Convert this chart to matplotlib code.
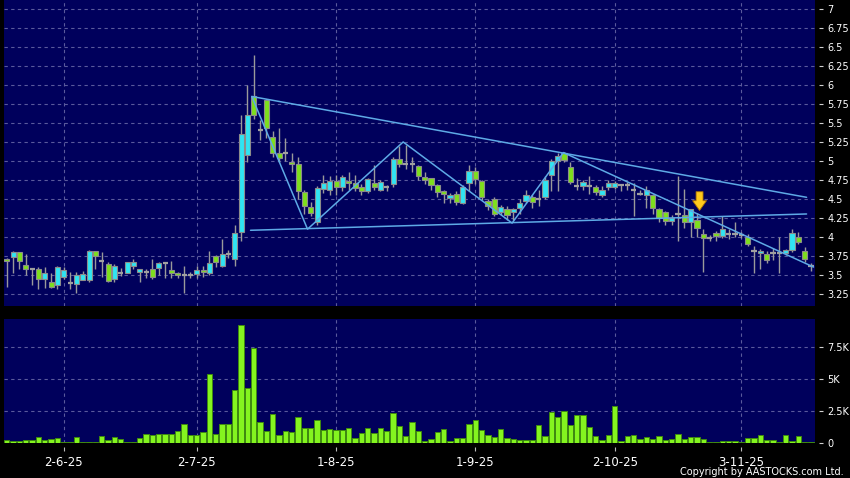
import matplotlib
matplotlib.use('Agg')
import matplotlib.pyplot as plt
import numpy as np

# ---------------- data ----------------
opens = [3.71,3.73,3.80,3.63,3.58,3.57,3.44,3.40,3.36,3.47,3.39,3.37,3.43,3.43,3.81,3.68,3.64,3.44,3.52,3.52,
         3.62,3.53,3.53,3.57,3.59,3.65,3.56,3.52,3.49,3.50,3.51,3.56,3.52,3.75,3.61,3.77,3.70,4.06,5.08,5.86,
         5.41,5.81,5.31,5.11,5.11,4.98,4.96,4.59,4.39,4.19,4.63,4.62,4.74,4.65,4.74,4.71,4.65,4.60,4.71,4.62,
         4.65,4.70,5.02,4.96,4.96,4.93,4.79,4.78,4.68,4.60,4.51,4.57,4.45,4.71,4.87,4.73,4.47,4.50,4.33,4.37,
         4.32,4.38,4.47,4.52,4.50,4.53,4.82,5.00,5.11,4.92,4.67,4.67,4.67,4.66,4.55,4.65,4.65,4.68,4.68,4.62,
         4.57,4.55,4.55,4.36,4.32,4.21,4.30,4.29,4.19,4.22,4.04,3.98,4.05,4.01,4.04,4.03,4.02,4.00,3.81,3.78,
         3.77,3.79,3.78,3.78,3.82,4.00,3.81,3.61]
highs = [3.72,3.81,3.80,3.77,3.59,3.60,3.60,3.52,3.61,3.60,3.54,3.53,3.55,3.83,3.81,3.80,3.66,3.64,3.59,3.67,
         3.71,3.57,3.57,3.71,3.67,3.67,3.68,3.53,3.61,3.53,3.61,3.62,3.81,3.76,3.97,3.83,4.16,5.61,6.00,6.40,
         5.54,5.82,5.40,5.43,5.30,5.10,5.05,4.62,4.46,4.67,4.82,4.80,4.82,4.82,4.85,4.82,4.70,4.78,4.95,4.75,
         4.68,5.05,5.20,5.21,5.05,4.95,4.85,4.78,4.70,4.62,4.58,4.60,4.68,4.95,4.92,4.75,4.50,4.52,4.42,4.40,
         4.38,4.50,4.62,4.55,4.62,4.80,5.02,5.11,5.12,4.99,4.78,4.75,4.80,4.68,4.67,4.75,4.74,4.70,4.72,4.71,
         4.62,4.67,4.57,4.38,4.34,4.28,4.80,4.63,4.37,4.31,4.10,4.02,4.08,4.27,4.10,4.20,4.06,4.03,3.88,3.84,
         3.81,3.85,4.00,3.84,4.10,4.06,3.86,3.65]
lows = [3.34,3.52,3.58,3.49,3.36,3.31,3.33,3.33,3.31,3.44,3.31,3.26,3.43,3.40,3.57,3.47,3.40,3.40,3.48,3.52,
        3.57,3.40,3.45,3.44,3.50,3.46,3.46,3.45,3.26,3.46,3.45,3.47,3.50,3.60,3.60,3.72,3.62,3.94,4.99,5.55,
        5.28,5.30,5.05,4.98,5.00,4.85,4.50,4.30,4.27,4.15,4.58,4.55,4.55,4.60,4.62,4.60,4.55,4.58,4.62,4.60,
        4.60,4.65,4.92,4.90,4.85,4.75,4.70,4.62,4.52,4.45,4.45,4.42,4.43,4.60,4.70,4.48,4.35,4.27,4.28,4.22,
        4.22,4.30,4.45,4.38,4.40,4.50,4.60,4.60,4.98,4.70,4.62,4.62,4.56,4.55,4.52,4.62,4.63,4.60,4.62,4.27,
        4.55,4.38,4.30,4.20,4.15,4.15,3.94,4.12,4.00,4.00,3.53,3.95,3.95,3.98,3.97,4.00,3.98,3.88,3.52,3.58,
        3.65,3.69,3.52,3.76,3.80,3.91,3.66,3.55]
closes = [3.68,3.80,3.68,3.57,3.58,3.44,3.52,3.34,3.60,3.56,3.39,3.49,3.51,3.81,3.75,3.68,3.42,3.61,3.52,3.67,
          3.67,3.57,3.53,3.47,3.65,3.65,3.52,3.49,3.49,3.50,3.56,3.53,3.65,3.67,3.77,3.77,4.05,5.35,5.61,5.61,
          5.41,5.43,5.11,5.04,5.11,4.96,4.60,4.41,4.31,4.64,4.71,4.74,4.65,4.79,4.71,4.64,4.60,4.76,4.65,4.72,
          4.65,5.02,4.96,4.96,4.96,4.80,4.75,4.68,4.59,4.57,4.55,4.46,4.66,4.87,4.76,4.53,4.41,4.30,4.39,4.28,
          4.36,4.44,4.55,4.46,4.50,4.75,5.00,5.06,5.01,4.72,4.67,4.72,4.67,4.59,4.61,4.71,4.71,4.68,4.68,4.62,
          4.57,4.61,4.38,4.25,4.21,4.25,4.30,4.20,4.36,4.11,3.98,3.98,4.01,4.10,4.04,4.03,4.02,3.91,3.81,3.81,
          3.69,3.79,3.78,3.82,4.05,3.93,3.70,3.61]
volumes = [260,130,130,260,260,470,210,340,390,80,80,470,50,80,80,550,260,500,310,80,
           80,420,730,650,700,680,680,940,1510,650,650,860,5420,730,1480,1510,4140,9220,4300,7450,
           1640,910,2240,600,940,830,2060,1170,1200,1800,1040,1120,1015,1040,1170,390,750,1170,750,1170,
           960,2370,1350,520,1640,940,180,310,830,1090,180,360,360,1510,1800,1040,650,440,1090,390,
           340,230,230,230,1380,570,2420,2000,2500,1430,2210,2160,1220,550,260,600,2860,130,520,620,
           290,490,290,570,230,340,700,310,490,490,310,80,80,180,180,180,100,360,360,620,
           230,230,80,650,180,570,80,50]
date_labels = ['2-6-25', '2-7-25', '1-8-25', '1-9-25', '2-10-25', '3-11-25']
date_index = [9, 30, 52, 74, 96, 116]
price_ticks = [3.25, 3.5, 3.75, 4, 4.25, 4.5, 4.75, 5, 5.25, 5.5, 5.75, 6, 6.25, 6.5, 6.75, 7]
price_tick_labels = ['3.25', '3.5', '3.75', '4', '4.25', '4.5', '4.75', '5', '5.25', '5.5',
                     '5.75', '6', '6.25', '6.5', '6.75', '7']
vol_ticks = [0, 2500, 5000, 7500]
vol_tick_labels = ['0', '2.5K', '5K', '7.5K']
# drawn trend lines (bar index, price)
upper_line = [(38.7, 5.85), (126.3, 4.52)]
lower_line = [(38.5, 4.085), (126.3, 4.30)]
zigzag = [(38.7, 5.85), (47.5, 4.10), (62.6, 5.25), (79.8, 4.18), (87.9, 5.11), (127.4, 3.60)]
arrow_at = (109.4, 4.63, 4.31)

# ---------------- styling ----------------
BG = '#00005c'
CYAN = '#30e4f2'
GREEN = '#7edf1c'
VOLG = '#84f41f'
EDGE = '#8c8c8c'
GRID = '#5a5a9c'
LINE = '#5eaae6'

o = np.array(opens); h = np.array(highs); l = np.array(lows); c = np.array(closes)
v = np.array(volumes)
x = np.arange(len(o))

fig = plt.figure(figsize=(8.5, 4.78), dpi=100, facecolor='black')
W, H = 850, 478
ax = fig.add_axes([4 / W, (H - 306) / H, 811 / W, 306 / H], facecolor=BG)
axv = fig.add_axes([4 / W, (H - 443) / H, 811 / W, 124 / H], facecolor=BG, sharex=ax)

xlim = (-0.43, 127.63)

for a in (ax, axv):
    for s in a.spines.values():
        s.set_visible(False)
    a.set_xlim(*xlim)
    for xi in date_index:
        a.axvline(xi, color=GRID, lw=0.8, ls=(0, (3, 3)), zorder=0)

# price grid
for p in price_ticks:
    ax.axhline(p, color=GRID, lw=0.8, ls=(0, (3, 3)), zorder=0)
ax.set_ylim(3.086, 7.123)

# wicks
ax.vlines(x, l, h, color='#9a9a9a', lw=1.0, zorder=2)
up = c > o
dn = c < o
dj = c == o
bw = 0.8
ax.bar(x[up], (c - o)[up], bottom=o[up], width=bw, color=CYAN, edgecolor=EDGE, lw=0.8, zorder=3)
ax.bar(x[dn], (o - c)[dn], bottom=c[dn], width=bw, color=GREEN, edgecolor=EDGE, lw=0.8, zorder=3)
ax.hlines(c[dj], x[dj] - bw / 2, x[dj] + bw / 2, color='#a0a0a0', lw=1.6, zorder=3)

# trend lines
for seg in (upper_line, lower_line, zigzag):
    xs, ys = zip(*seg)
    ax.plot(xs, ys, color=LINE, lw=1.1, zorder=4, solid_capstyle='round')

# arrow
ax.annotate('', xy=(arrow_at[0], arrow_at[2]), xytext=(arrow_at[0], arrow_at[1]),
            arrowprops=dict(arrowstyle='simple,head_length=0.7,head_width=1.0,tail_width=0.5',
                            fc='#ffc91c', ec='#b07400', lw=0.6), zorder=6)

# volume
for p in vol_ticks[1:]:
    axv.axhline(p, color=GRID, lw=0.8, ls=(0, (3, 3)), zorder=0)
axv.bar(x, v, width=0.85, color=VOLG, edgecolor='#3f8a10', lw=0.7, zorder=3)
axv.set_ylim(0, 9690)

# ticks / labels
for a, tks, lbs in ((ax, price_ticks, price_tick_labels), (axv, vol_ticks, vol_tick_labels)):
    a.yaxis.tick_right()
    a.spines['right'].set_position(('outward', 3))
    a.set_yticks(tks)
    a.set_yticklabels(lbs)
    a.tick_params(axis='y', colors='#d0d0d0', labelcolor='white', labelsize=7,
                  length=3, width=0.8, pad=3)

ax.tick_params(axis='x', bottom=False, labelbottom=False)
axv.spines['bottom'].set_position(('outward', 3))
axv.set_xticks(date_index)
axv.set_xticklabels(date_labels)
axv.tick_params(axis='x', colors='#bbbbbb', labelcolor='white', labelsize=8.5,
                length=3, width=0.8, pad=3)

fig.text(844 / W, 1 - 472 / H, 'Copyright by AASTOCKS.com Ltd.', color='white',
         fontsize=7, ha='right', va='center')

fig.savefig('out.png', dpi=100, facecolor='black')
